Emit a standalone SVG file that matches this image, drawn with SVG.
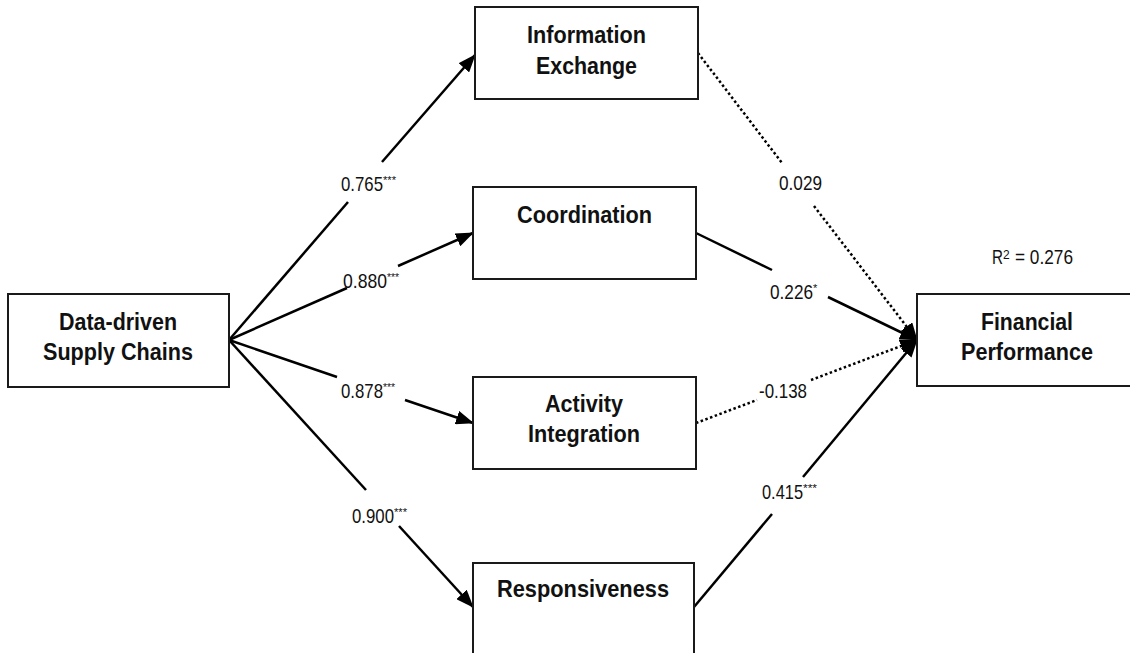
<svg xmlns="http://www.w3.org/2000/svg" width="1130" height="653" viewBox="0 0 1130 653">
<defs>
<marker id="ah" markerUnits="userSpaceOnUse" markerWidth="18" markerHeight="14" viewBox="0 0 18 14" refX="17" refY="7" orient="auto">
<path d="M0,0 L18,7 L0,14 z" fill="#000" stroke="none"/>
</marker>
<style>
.box{fill:#fff;stroke:#1a1a1a;stroke-width:2}
.nt{font-family:"Liberation Sans Narrow","Liberation Sans",Arial,sans-serif;font-weight:bold;font-size:24px;fill:#111;text-anchor:middle}
.lb{font-family:"Liberation Sans Narrow","Liberation Sans",Arial,sans-serif;font-size:21px;fill:#111}
.sp{font-size:11px}
.c{stroke:#000;stroke-width:2.5;fill:none}
.d{stroke:#000;stroke-width:2.5;fill:none;stroke-dasharray:2.5 2.5}
.a{marker-end:url(#ah)}
</style>
</defs>
<rect width="1130" height="653" fill="#fff"/>
<g id="connectors">
<line class="c" x1="229" y1="340" x2="348" y2="202"/>
<line class="c a" x1="382" y1="162" x2="475" y2="55"/>
<line class="c" x1="229" y1="340" x2="347" y2="288"/>
<line class="c a" x1="398" y1="266" x2="473" y2="233"/>
<line class="c" x1="229" y1="340" x2="337" y2="377"/>
<line class="c a" x1="405" y1="400" x2="473" y2="423"/>
<line class="c" x1="229" y1="340" x2="366" y2="490"/>
<line class="c a" x1="399" y1="526" x2="473" y2="607"/>
<line class="d" x1="698" y1="53" x2="782" y2="163"/>
<line class="d a" x1="814" y1="206" x2="917" y2="340"/>
<line class="c" x1="696" y1="233" x2="772" y2="270"/>
<line class="c a" x1="828" y1="297" x2="917" y2="340"/>
<line class="d" x1="696" y1="423" x2="757" y2="400"/>
<line class="d a" x1="811" y1="380" x2="917" y2="340"/>
<line class="c" x1="694" y1="607" x2="772" y2="514"/>
<line class="c a" x1="803" y1="477" x2="917" y2="340"/>
</g>
<g id="labels">
<text class="lb" x="341" y="191"><tspan textLength="42" lengthAdjust="spacingAndGlyphs">0.765</tspan><tspan class="sp" dy="-7" textLength="13" lengthAdjust="spacingAndGlyphs">***</tspan></text>
<text class="lb" x="343" y="288"><tspan textLength="44" lengthAdjust="spacingAndGlyphs">0.880</tspan><tspan class="sp" dy="-7" textLength="12" lengthAdjust="spacingAndGlyphs">***</tspan></text>
<text class="lb" x="341" y="398"><tspan textLength="42" lengthAdjust="spacingAndGlyphs">0.878</tspan><tspan class="sp" dy="-7" textLength="12" lengthAdjust="spacingAndGlyphs">***</tspan></text>
<text class="lb" x="352" y="523"><tspan textLength="42" lengthAdjust="spacingAndGlyphs">0.900</tspan><tspan class="sp" dy="-7" textLength="13" lengthAdjust="spacingAndGlyphs">***</tspan></text>
<text class="lb" x="779" y="190" textLength="43" lengthAdjust="spacingAndGlyphs">0.029</text>
<text class="lb" x="770" y="299"><tspan textLength="43" lengthAdjust="spacingAndGlyphs">0.226</tspan><tspan class="sp" dy="-7">*</tspan></text>
<text class="lb" x="759" y="398" textLength="48" lengthAdjust="spacingAndGlyphs">-0.138</text>
<text class="lb" x="762" y="499"><tspan textLength="41" lengthAdjust="spacingAndGlyphs">0.415</tspan><tspan class="sp" dy="-7" textLength="14" lengthAdjust="spacingAndGlyphs">***</tspan></text>
<text class="lb" x="992" y="264"><tspan textLength="11" lengthAdjust="spacingAndGlyphs">R</tspan><tspan font-size="12" dy="-5">2</tspan><tspan dy="5" x="1015" textLength="58" lengthAdjust="spacingAndGlyphs">= 0.276</tspan></text>
</g>
<g id="node-data">
<rect class="box" x="8" y="294" width="221" height="93"/>
<text class="nt" x="118" y="330" textLength="118" lengthAdjust="spacingAndGlyphs">Data-driven</text>
<text class="nt" x="118" y="360" textLength="150" lengthAdjust="spacingAndGlyphs">Supply Chains</text>
</g>
<g id="node-info">
<rect class="box" x="475" y="7" width="223" height="92"/>
<text class="nt" x="586.5" y="43" textLength="119" lengthAdjust="spacingAndGlyphs">Information</text>
<text class="nt" x="586.5" y="74" textLength="101" lengthAdjust="spacingAndGlyphs">Exchange</text>
</g>
<g id="node-coord">
<rect class="box" x="473" y="187" width="223" height="92"/>
<text class="nt" x="584.5" y="223" textLength="135" lengthAdjust="spacingAndGlyphs">Coordination</text>
</g>
<g id="node-activity">
<rect class="box" x="473" y="377" width="223" height="92"/>
<text class="nt" x="584" y="412" textLength="78" lengthAdjust="spacingAndGlyphs">Activity</text>
<text class="nt" x="584" y="442" textLength="112" lengthAdjust="spacingAndGlyphs">Integration</text>
</g>
<g id="node-resp">
<rect class="box" x="473" y="563" width="221" height="92"/>
<text class="nt" x="583" y="597" textLength="172" lengthAdjust="spacingAndGlyphs">Responsiveness</text>
</g>
<g id="node-fin">
<rect class="box" x="917" y="294" width="222" height="92"/>
<text class="nt" x="1027" y="330" textLength="92" lengthAdjust="spacingAndGlyphs">Financial</text>
<text class="nt" x="1027" y="360" textLength="132" lengthAdjust="spacingAndGlyphs">Performance</text>
</g>
</svg>
